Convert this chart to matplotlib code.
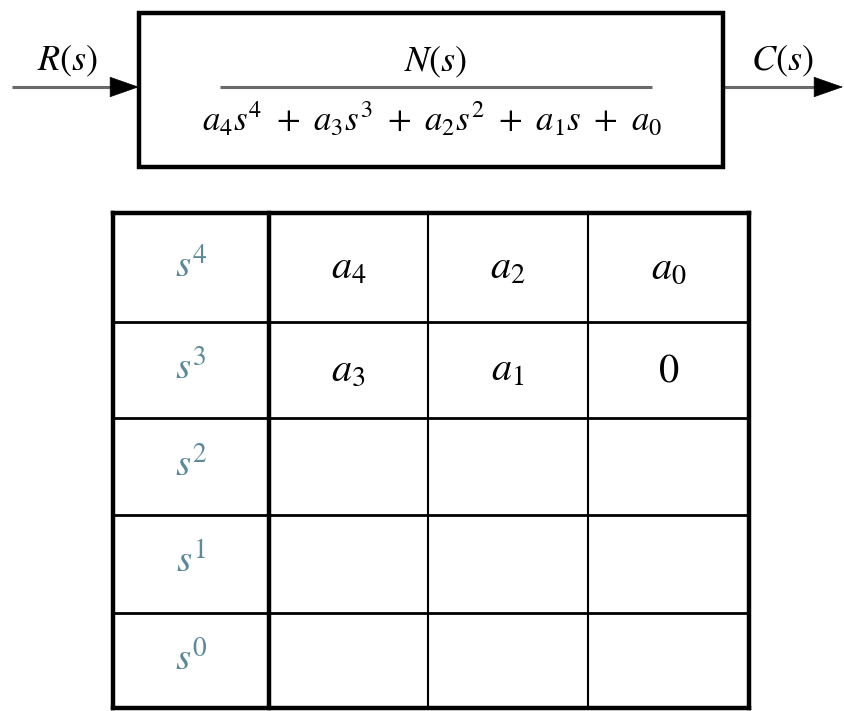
import matplotlib
matplotlib.use("Agg")
import matplotlib.pyplot as plt
from matplotlib.patches import Rectangle, FancyArrowPatch

plt.rcParams['mathtext.fontset'] = 'stix'
plt.rcParams['font.family'] = ['STIXGeneral', 'DejaVu Serif']

# ---- content ----
input_label = r'$R(s)$'
output_label = r'$C(s)$'
numerator = r'$N(s)$'
denominator = r'$a_4s^4 \ + \ a_3s^3 \ + \ a_2s^2 \ + \ a_1s \ + \ a_0$'
row_labels = [r'$s^4$', r'$s^3$', r'$s^2$', r'$s^1$', r'$s^0$']
row1 = [r'$a_4$', r'$a_2$', r'$a_0$']
row2 = [r'$a_3$', r'$a_1$', r'$0$']
row3 = ['', '', '']
row4 = ['', '', '']
row5 = ['', '', '']
entries = [row1, row2, row3, row4, row5]

# ---- layout (pixel space) ----
W, H = 844, 711
fig = plt.figure(figsize=(W / 100, H / 100), dpi=100)
ax = fig.add_axes([0, 0, 1, 1])
ax.set_xlim(0, W)
ax.set_ylim(H, 0)
ax.axis('off')

gray = '#6a6a6a'
label_col = '#5a8a9a'

# block
bx0, bx1, by0, by1 = 139, 723, 13, 167
ax.add_patch(Rectangle((bx0, by0), bx1 - bx0, by1 - by0, fill=False,
                       lw=3.2, ec='black', zorder=3))
mid_y = 87
ax.plot([220, 652], [mid_y, mid_y], color=gray, lw=2.2, solid_capstyle='butt')
ax.text(436, 71, numerator, fontsize=26, ha='center', va='baseline')
ax.text(432, 131, denominator, fontsize=25, ha='center', va='baseline')

# arrows
for xa, xb in [(12, bx0), (bx1 + 1, 843)]:
    ax.plot([xa, xb - 10], [mid_y, mid_y], color=gray, lw=2.2,
            solid_capstyle='butt')
    ax.add_patch(FancyArrowPatch((xb - 20, mid_y), (xb, mid_y),
                                 arrowstyle='-|>,head_length=20,head_width=7',
                                 mutation_scale=1, color='black', lw=0.5,
                                 shrinkA=0, shrinkB=0, zorder=2))
ax.text(67, 70, input_label, fontsize=26, ha='center', va='baseline')
ax.text(782, 70, output_label, fontsize=26, ha='center', va='baseline')

# table
xs = [113, 269, 428, 588, 749]
ys = [213, 322, 418, 515, 613, 708]
for i, y in enumerate(ys):
    lw = 3.2 if i in (0, len(ys) - 1) else 2.0
    ax.plot([xs[0], xs[-1]], [y, y], color='black', lw=lw,
            solid_capstyle='projecting')
for j, x in enumerate(xs):
    lw = 3.2 if j in (0, 1, len(xs) - 1) else 1.5
    ax.plot([x, x], [ys[0], ys[-1]], color='black', lw=lw,
            solid_capstyle='projecting')

for i, lab in enumerate(row_labels):
    base = (ys[i] + ys[i + 1]) / 2 + 9
    ax.text((xs[0] + xs[1]) / 2, base, lab, fontsize=28, ha='center',
            va='baseline', color=label_col)
    for j, val in enumerate(entries[i]):
        if val:
            ax.text((xs[j + 1] + xs[j + 2]) / 2, base + 2, val, fontsize=29,
                    ha='center', va='baseline', color='black')

fig.savefig('out.png', dpi=100, facecolor='white')
